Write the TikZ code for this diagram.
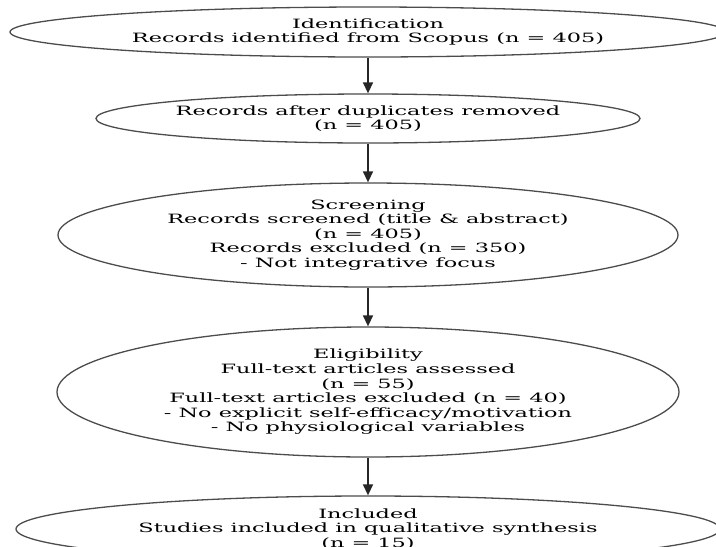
\documentclass[tikz,border=0pt]{standalone}
\usepackage{fontspec}
\setmainfont{DejaVu Serif}[FakeStretch=1.75]
\usetikzlibrary{shapes.geometric, arrows.meta}

\tikzset{
  stage/.style={ellipse, draw=black!70, line width=1.3pt, inner sep=0pt,
    align=center, font=\fontsize{12.8}{14.6}\selectfont},
  flow/.style={-{Triangle[length=11pt,width=10pt]}, line width=1.4pt, draw=black!85}
}

\begin{document}
\begin{tikzpicture}[x=1pt, y=-1pt]
    \useasboundingbox (0,0) rectangle (716,547);

    % 楕円ノード
    \node[stage, minimum width=716pt, minimum height=50pt] (ident) at (368,32)
        {Identification\\Records identified from Scopus (n = 405)};
    \node[stage, minimum width=540pt, minimum height=49pt] (dedup) at (368,118.5)
        {Records after duplicates removed\\(n = 405)};
    \node[stage, minimum width=620pt, minimum height=104pt] (screen) at (368,235)
        {Screening\\Records screened (title \& abstract)\\(n = 405)\\Records excluded (n = 350)\\- Not integrative focus};
    \node[stage, minimum width=622pt, minimum height=130pt] (elig) at (368,392)
        {Eligibility\\Full-text articles assessed\\(n = 55)\\Full-text articles excluded (n = 40)\\- No explicit self-efficacy/motivation\\- No physiological variables};
    \node[stage, minimum width=704pt, minimum height=66pt] (incl) at (368,529)
        {Included\\Studies included in qualitative synthesis\\(n = 15)};

    % 矢印
    \draw[flow] (ident) -- (dedup);
    \draw[flow] (dedup) -- (screen);
    \draw[flow] (screen) -- (elig);
    \draw[flow] (elig) -- (incl);

\end{tikzpicture}
\end{document}
